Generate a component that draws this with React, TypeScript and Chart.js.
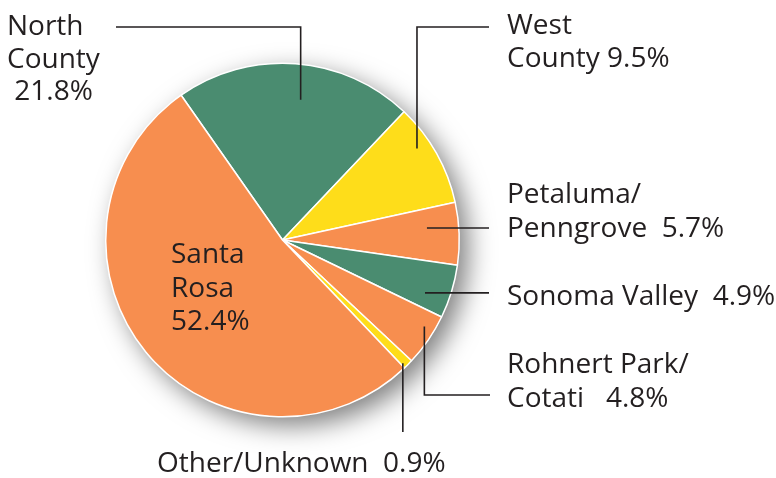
import React, { useEffect, useRef } from "react";
import { Chart, registerables } from "chart.js";

Chart.register(...registerables);

const categories = [
  "North County",
  "West County",
  "Petaluma/Penngrove",
  "Sonoma Valley",
  "Rohnert Park/Cotati",
  "Other/Unknown",
  "Santa Rosa",
];
const shares = [21.8, 9.5, 5.7, 4.9, 4.8, 0.9, 52.4];
const GREEN = "#4a8c70";
const YELLOW = "#fedd1a";
const ORANGE = "#f78e4f";
const sliceColors = [GREEN, YELLOW, ORANGE, GREEN, ORANGE, YELLOW, ORANGE];

// label text lines; {v} is replaced by the share value
const labelLines = [
  ["North", "County", " {v}%"],
  ["West", "County {v}%"],
  ["Petaluma/", "Penngrove  {v}%"],
  ["Sonoma Valley  {v}%"],
  ["Rohnert Park/", "Cotati   {v}%"],
  ["Other/Unknown  {v}%"],
  ["Santa", "Rosa", "{v}%"],
];

// layout (positions only)
type Leader = { t: number; r: number; kind: "h" | "vh" | "v"; y?: number; x?: number } | null;
const labelLayout: { x: number; y: number; lh: number; leader: Leader }[] = [
  { x: 7, y: 35, lh: 32.5, leader: { t: 0.54, r: 0.8, kind: "vh", y: 27, x: 116 } },
  { x: 507, y: 34, lh: 33, leader: { t: 0.36, r: 0.92, kind: "vh", y: 27, x: 489 } },
  { x: 507, y: 203, lh: 34, leader: { t: 0.37, r: 0.82, kind: "h", x: 489 } },
  { x: 507, y: 305, lh: 34, leader: { t: 0.69, r: 0.86, kind: "h", x: 489 } },
  { x: 507, y: 373, lh: 34, leader: { t: 0.32, r: 0.94, kind: "vh", y: 395, x: 490 } },
  { x: 157, y: 472, lh: 34, leader: { t: 0.8, r: 0.975, kind: "v", y: 432 } },
  { x: 171, y: 263, lh: 33.5, leader: null },
];

const TEXT_COLOR = "#231f20";
const FONT = '28px "Open Sans"';

const shadowPlugin = {
  id: "pieShadow",
  beforeDatasetsDraw(chart: any) {
    const arc = chart.getDatasetMeta(0).data[0];
    if (!arc) return;
    const { x, y, outerRadius } = arc.getProps(["x", "y", "outerRadius"], true);
    const ctx = chart.ctx;
    ctx.save();
    ctx.shadowColor = "rgba(0,0,0,0.5)";
    ctx.shadowBlur = 26;
    ctx.shadowOffsetX = 9;
    ctx.shadowOffsetY = 9;
    ctx.fillStyle = "#ffffff";
    ctx.beginPath();
    ctx.arc(x, y, outerRadius, 0, Math.PI * 2);
    ctx.fill();
    ctx.restore();
  },
};

const labelPlugin = {
  id: "pieLabels",
  afterDatasetsDraw(chart: any) {
    const ctx = chart.ctx;
    const meta = chart.getDatasetMeta(0);
    ctx.save();
    ctx.font = FONT;
    ctx.fillStyle = TEXT_COLOR;
    ctx.strokeStyle = TEXT_COLOR;
    ctx.lineWidth = 1.6;
    ctx.textBaseline = "alphabetic";
    ctx.textAlign = "left";
    meta.data.forEach((arc: any, i: number) => {
      const p = arc.getProps(["x", "y", "startAngle", "endAngle", "outerRadius"], true);
      const lay = labelLayout[i];
      const ld = lay.leader;
      if (ld) {
        const a = p.startAngle + ld.t * (p.endAngle - p.startAngle);
        const ax = p.x + Math.cos(a) * p.outerRadius * ld.r;
        const ay = p.y + Math.sin(a) * p.outerRadius * ld.r;
        ctx.beginPath();
        ctx.moveTo(ax, ay);
        if (ld.kind === "h") {
          ctx.lineTo(ld.x, ay);
        } else if (ld.kind === "v") {
          ctx.lineTo(ax, ld.y);
        } else {
          ctx.lineTo(ax, ld.y);
          ctx.lineTo(ld.x, ld.y);
        }
        ctx.stroke();
      }
      labelLines[i].forEach((line, k) => {
        const txt = line.replace("{v}", shares[i].toFixed(1));
        ctx.fillText(txt, lay.x, lay.y + k * lay.lh);
      });
    });
    ctx.restore();
  },
};

export default function App() {
  const ref = useRef<HTMLCanvasElement | null>(null);
  useEffect(() => {
    document.body.style.margin = "0";
    const canvas = ref.current;
    if (!canvas) return;
    const chart = new Chart(canvas, {
      type: "pie",
      data: {
        labels: categories,
        datasets: [
          {
            data: shares,
            backgroundColor: sliceColors,
            borderColor: "#ffffff",
            borderWidth: 1.5,
          },
        ],
      },
      options: {
        responsive: false,
        animation: false,
        devicePixelRatio: 1,
        rotation: -35,
        layout: { padding: { left: 105, right: 316, top: 62.5, bottom: 60.5 } },
        plugins: {
          legend: { display: false },
          tooltip: { enabled: false },
        },
      },
      plugins: [shadowPlugin, labelPlugin],
    });
    return () => chart.destroy();
  }, []);
  return (
    <div style={{ width: 776, height: 478, background: "#ffffff" }}>
      <canvas ref={ref} width={776} height={478} />
    </div>
  );
}
